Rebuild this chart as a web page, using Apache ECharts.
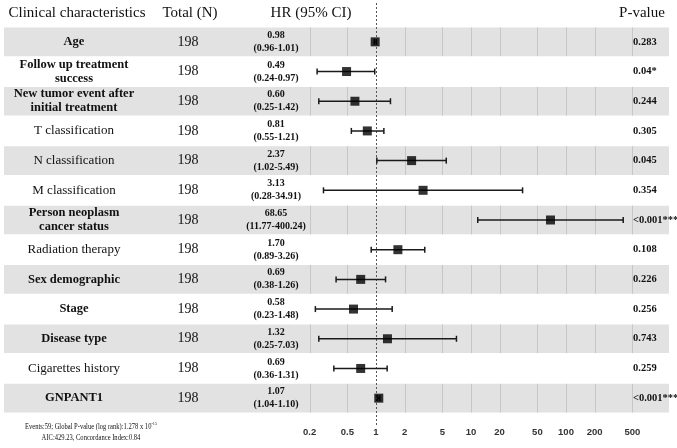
<!DOCTYPE html>
<html>
<head>
<meta charset="utf-8">
<script src="https://cdn.jsdelivr.net/npm/echarts@6/dist/echarts.min.js"></script>
<style>
  html, body { margin: 0; padding: 0; background: #fff; }
  #chart { width: 677px; height: 448px; }
</style>
</head>
<body>
<div id="chart"></div>
<script>
// ---------------- data ----------------
const categories = [
  'Age',
  'Follow up treatment\nsuccess',
  'New tumor event after\ninitial treatment',
  'T classification',
  'N classification',
  'M classification',
  'Person neoplasm\ncancer status',
  'Radiation therapy',
  'Sex demographic',
  'Stage',
  'Disease type',
  'Cigarettes history',
  'GNPANT1'
];
const totals = [198, 198, 198, 198, 198, 198, 198, 198, 198, 198, 198, 198, 198];
const hr     = [0.98, 0.49, 0.60, 0.81, 2.37, 3.13, 68.65, 1.70, 0.69, 0.58, 1.32, 0.69, 1.07];
const lower  = [0.96, 0.24, 0.25, 0.55, 1.02, 0.28, 11.77, 0.89, 0.38, 0.23, 0.25, 0.36, 1.04];
const upper  = [1.01, 0.97, 1.42, 1.21, 5.49, 34.91, 400.24, 3.26, 1.26, 1.48, 7.03, 1.31, 1.10];
const pvalues = ['0.283', '0.04*', '0.244', '0.305', '0.045', '0.354', '<0.001***',
                 '0.108', '0.226', '0.256', '0.743', '0.259', '<0.001***'];
const tickValues = [0.2, 0.5, 1, 2, 5, 10, 20, 50, 100, 200, 500];

// ---------------- styling helpers ----------------
const boldLabelRows = [0, 1, 2, 6, 8, 9, 10, 12];
const SERIF = '"Liberation Serif", "Times New Roman", serif';
const hrLabels = hr.map((v, i) => v.toFixed(2) + '\n(' + lower[i].toFixed(2) + '-' + upper[i].toFixed(2) + ')');
const rowIdx = categories.map((c, i) => i);
const shadedRows = rowIdx.filter(i => i % 2 === 0);

const chart = echarts.init(document.getElementById('chart'), null, { renderer: 'canvas' });

const baseY = {
  type: 'category',
  inverse: true,
  axisLine: { show: false },
  axisTick: { show: false },
  splitLine: { show: false },
  z: 10
};

const option = {
  animation: false,
  backgroundColor: '#ffffff',
  grid: { left: 281, right: 16, top: 27, bottom: 35, containLabel: false, outerBoundsMode: 'none' },
  xAxis: {
    type: 'log', logBase: 10, min: 0.1, max: 1000,
    axisLine: { show: false }, axisTick: { show: false },
    axisLabel: { show: false }, splitLine: { show: false }
  },
  yAxis: [
    Object.assign({}, baseY, {
      data: categories, position: 'left', offset: 0,
      axisLabel: {
        interval: 0, align: 'center', margin: 207,
        formatter: (val, idx) => {
          const tag = boldLabelRows.includes(idx) ? 'b' : 'n';
          return val.split('\n').map(l => '{' + tag + '|' + l + '}').join('\n');
        },
        rich: {
          b: { fontFamily: SERIF, fontSize: 12.5, fontWeight: 'bold', color: '#111', lineHeight: 14 },
          n: { fontFamily: SERIF, fontSize: 13, fontWeight: 'normal', color: '#111', lineHeight: 14 }
        }
      }
    }),
    Object.assign({}, baseY, {
      data: totals.map(String), position: 'left', offset: 0,
      axisLabel: { interval: 0, align: 'center', margin: 93, fontFamily: SERIF, fontSize: 14, color: '#111' }
    }),
    Object.assign({}, baseY, {
      data: hrLabels, position: 'left', offset: 0,
      axisLabel: { interval: 0, align: 'center', margin: 5, fontFamily: SERIF, fontSize: 10,
                   fontWeight: 'bold', lineHeight: 13, color: '#111' }
    }),
    Object.assign({}, baseY, {
      data: pvalues, position: 'right', offset: -28,
      axisLabel: { interval: 0, align: 'left', margin: 0, fontFamily: SERIF, fontSize: 10.5,
                   fontWeight: 'bold', color: '#111' }
    })
  ],
  graphic: [
    { type: 'text', x: 77, y: 13, style: { text: 'Clinical characteristics', font: '15px ' + SERIF, fill: '#111', align: 'center', verticalAlign: 'middle' } },
    { type: 'text', x: 190, y: 13, style: { text: 'Total (N)', font: '15px ' + SERIF, fill: '#111', align: 'center', verticalAlign: 'middle' } },
    { type: 'text', x: 311, y: 13, style: { text: 'HR (95% CI)', font: '15px ' + SERIF, fill: '#111', align: 'center', verticalAlign: 'middle' } },
    { type: 'text', x: 642, y: 13, style: { text: 'P-value', font: '15px ' + SERIF, fill: '#111', align: 'center', verticalAlign: 'middle' } },
    { type: 'text', x: 91, y: 432, scaleX: 0.84, style: {
        text: '{n|Events:59; Global P-value (log rank):1.278 x 10}{s|-15}\n{n|AIC:429.23, Concordance Index:0.84}',
        align: 'center', verticalAlign: 'middle',
        rich: {
          n: { fontFamily: SERIF, fontSize: 7.8, fill: '#111', lineHeight: 11 },
          s: { fontFamily: SERIF, fontSize: 5, fill: '#111', lineHeight: 11, verticalAlign: 'top' }
        }
    } }
  ],
  series: [
    // shaded row bands with vertical grid lines
    {
      type: 'custom', yAxisIndex: 0, z: -5, clip: false, silent: true,
      data: shadedRows.map(i => [1, i]),
      encode: { x: 0, y: 1 },
      renderItem: (params, api) => {
        const c = api.coord([1, api.value(1)]);
        const h = api.size([0, 1])[1];
        const top = c[1] - h / 2 + 0.5;
        const bh = h - 1;
        const children = [{
          type: 'rect', shape: { x: 4, y: top, width: 665, height: bh },
          style: { fill: '#e2e2e2' }
        }];
        tickValues.forEach(t => {
          if (t === 1) return;
          const x = Math.round(api.coord([t, api.value(1)])[0]) + 0.5;
          children.push({ type: 'line', shape: { x1: x, y1: top, x2: x, y2: top + bh },
                          style: { stroke: '#c6c6c6', lineWidth: 1 } });
        });
        return { type: 'group', children };
      }
    },
    // reference line at HR = 1
    {
      type: 'custom', yAxisIndex: 0, z: 3, clip: false, silent: true,
      data: [[1, 0]],
      encode: { x: 0, y: 1 },
      renderItem: (params, api) => {
        const x = Math.round(api.coord([api.value(0), 0])[0]) + 0.5;
        return { type: 'line', shape: { x1: x, y1: 3, x2: x, y2: 426 },
                 style: { stroke: '#555', lineWidth: 1, lineDash: [2, 2] } };
      }
    },
    // confidence intervals
    {
      type: 'custom', yAxisIndex: 0, z: 4, clip: false, silent: true,
      data: rowIdx.map(i => [lower[i], upper[i], i]),
      encode: { x: [0, 1], y: 2 },
      renderItem: (params, api) => {
        const y = api.value(2);
        const p1 = api.coord([api.value(0), y]);
        const p2 = api.coord([api.value(1), y]);
        const st = { stroke: '#1a1a1a', lineWidth: 1.5 };
        return { type: 'group', children: [
          { type: 'line', shape: { x1: p1[0], y1: p1[1], x2: p2[0], y2: p2[1] }, style: st },
          { type: 'line', shape: { x1: p1[0], y1: p1[1] - 3, x2: p1[0], y2: p1[1] + 3 }, style: st },
          { type: 'line', shape: { x1: p2[0], y1: p2[1] - 3, x2: p2[0], y2: p2[1] + 3 }, style: st }
        ] };
      }
    },
    // hazard ratio points
    {
      type: 'scatter', yAxisIndex: 0, z: 6, silent: true,
      symbol: 'rect', symbolSize: 9,
      itemStyle: { color: '#000' },
      data: rowIdx.map(i => [hr[i], i])
    },
    // x tick labels
    {
      type: 'custom', yAxisIndex: 0, z: 5, clip: false, silent: true,
      data: tickValues.map(v => [v, categories.length - 1]),
      encode: { x: 0, y: 1 },
      renderItem: (params, api) => {
        const c = api.coord([api.value(0), api.value(1)]);
        const h = api.size([0, 1])[1];
        return { type: 'text', x: c[0], y: c[1] + h / 2 + 19,
                 style: { text: String(api.value(0)), font: 'bold 9.5px "Liberation Sans", Arial, sans-serif',
                          fill: '#333', align: 'center', verticalAlign: 'middle' } };
      }
    }
  ]
};
chart.setOption(option);
</script>
</body>
</html>
